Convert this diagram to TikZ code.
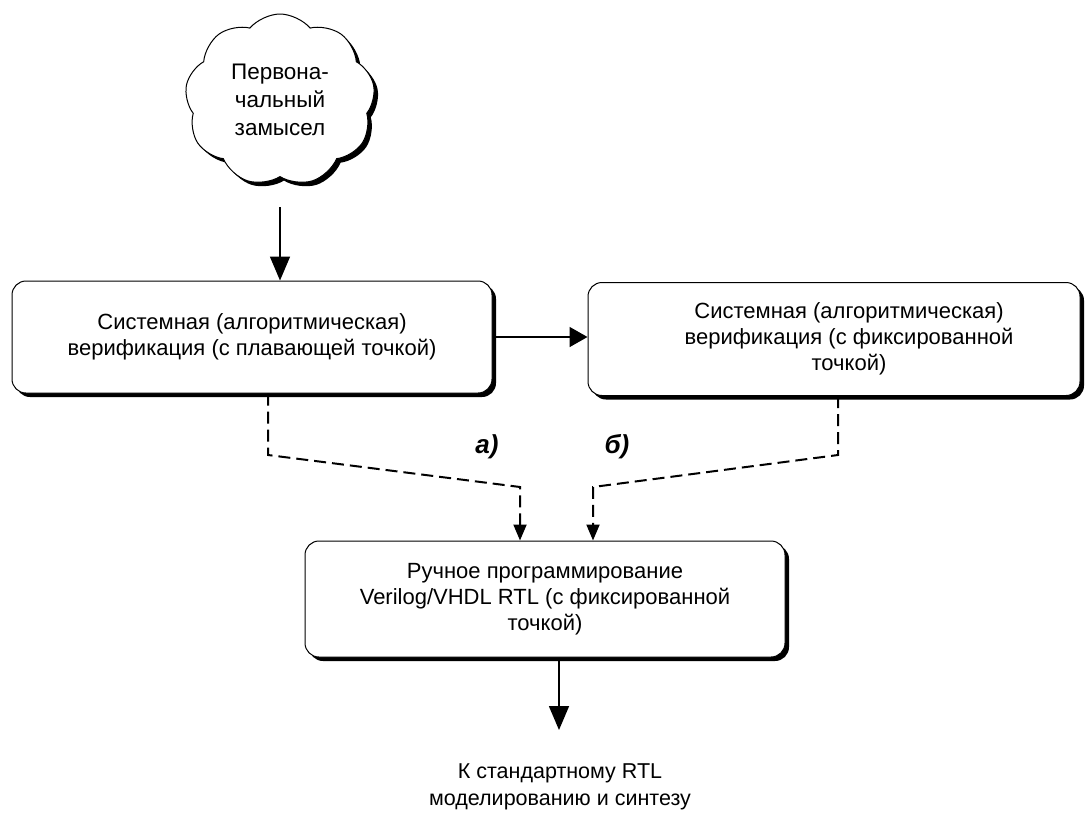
\documentclass[tikz,border=0pt]{standalone}
\usepackage{fontspec}
\setmainfont{Liberation Sans}
\usetikzlibrary{shapes.symbols,shadows,arrows.meta}
\begin{document}
\begin{tikzpicture}[x=1pt,y=-1pt,
  boxnode/.style={draw, line width=1pt, rounded corners=14pt, fill=white, align=center,
    inner sep=0pt, drop shadow={shadow xshift=4pt, shadow yshift=-4pt, opacity=1, fill=black},
    font=\fontsize{22}{26}\selectfont},
  cloudnode/.style={cloud, cloud puffs=9, cloud puff arc=100, aspect=1.1, draw, line width=1pt,
    fill=white, align=center, inner sep=0pt, minimum width=190pt, minimum height=172pt,
    drop shadow={shadow xshift=4pt, shadow yshift=-4pt, opacity=1, fill=black},
    font=\fontsize{22.5}{28}\selectfont},
  arr/.style={line width=1.6pt, -{Triangle[length=24pt,width=20pt]}},
  arrh/.style={line width=1.6pt, -{Triangle[length=18pt,width=20pt]}},
  dsh/.style={line width=2pt, dash pattern=on 12pt off 6pt, -{Triangle[length=16pt,width=13pt]}},
  lbl/.style={font=\bfseries\itshape\fontsize{26}{28}\selectfont},
  plain/.style={align=center, font=\fontsize{21.5}{27}\selectfont}]
\useasboundingbox (0,0) rectangle (1092,815);

\node[cloudnode] (c) at (280,100) {Первона-\\чальный\\замысел};
\node[boxnode, minimum width=480pt, minimum height=112pt] (b1) at (252,337)
  {Системная (алгоритмическая)\\верификация (с плавающей точкой)};
\node[boxnode, minimum width=492pt, minimum height=113pt] (b2) at (834,339)
  {\hspace*{30pt}Системная (алгоритмическая)\\\hspace*{30pt}верификация (с фиксированной\\\hspace*{30pt}точкой)};
\node[boxnode, minimum width=480pt, minimum height=116pt] (b3) at (545,599)
  {Ручное программирование\\Verilog/VHDL RTL (с фиксированной\\точкой)};
\node[plain] (out) at (560,787) {К стандартному RTL\\моделированию и синтезу};

\node[lbl] (la) at (487,447) {а)};
\node[lbl] (lb) at (617,447) {б)};

\coordinate (cs) at (280,207);
\draw[arr] (cs) -- (b1.north -| cs);
\draw[arrh] (b1.east) -- (b2.west |- b1.east);

\coordinate (a1) at (268,455);
\coordinate (a2) at (520,487);
\draw[dsh] (b1.south -| a1) -- (a1) -- (a2) -- (b3.north -| a2);

\coordinate (r1) at (838,455);
\coordinate (r2) at (593,487);
\draw[dsh] (b2.south -| r1) -- (r1) -- (r2) -- (b3.north -| r2);

\coordinate (bo) at (559,730);
\draw[arr] (b3.south -| bo) -- (bo);
\end{tikzpicture}
\end{document}
